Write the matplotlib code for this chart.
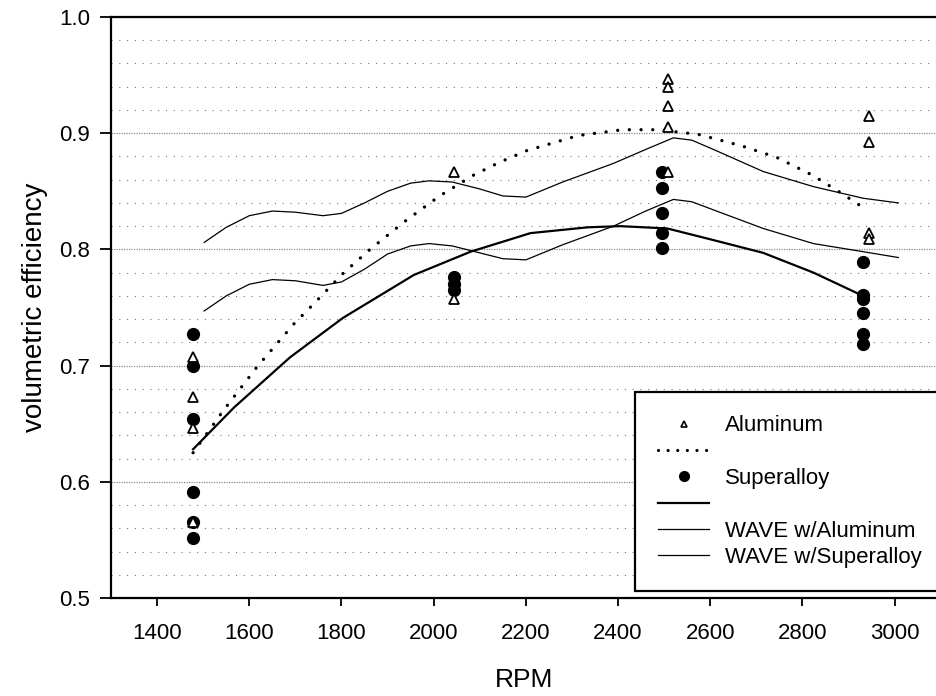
import numpy as np
import matplotlib.pyplot as plt
from matplotlib.lines import Line2D
from matplotlib.ticker import MultipleLocator

plt.rcParams['font.family'] = ['Liberation Sans', 'DejaVu Sans']

# measured points
al_rpm = [1478, 1478, 1478, 1478,
          2045, 2045,
          2509, 2509, 2509, 2509, 2509,
          2945, 2945, 2945, 2945]
al_eff = [0.707, 0.673, 0.646, 0.565,
          0.867, 0.757,
          0.947, 0.940, 0.923, 0.905, 0.867,
          0.915, 0.892, 0.814, 0.809]

sa_rpm = [1478, 1478, 1478, 1478, 1478, 1478,
          2045, 2045, 2045,
          2496, 2496, 2496, 2496, 2496,
          2932, 2932, 2932, 2932, 2932, 2932]
sa_eff = [0.727, 0.700, 0.654, 0.591, 0.565, 0.552,
          0.776, 0.770, 0.765,
          0.867, 0.853, 0.831, 0.814, 0.801,
          0.789, 0.761, 0.757, 0.745, 0.727, 0.719]

# fitted trend for aluminum (dotted)
al_fit_rpm = [1478, 1545, 1617, 1697, 1732, 1805, 1862, 1937, 2013, 2087,
              2143, 2202, 2314, 2410, 2485, 2574, 2669, 2745, 2821, 2878, 2932]
al_fit_eff = [0.625, 0.662, 0.699, 0.736, 0.750, 0.780, 0.800, 0.824, 0.846, 0.864,
              0.875, 0.885, 0.898, 0.903, 0.903, 0.899, 0.889, 0.879, 0.864, 0.850, 0.836]

# fitted trend for superalloy (heavy solid)
sa_fit_rpm = [1478, 1567, 1688, 1803, 1957, 2080, 2145, 2210, 2334, 2405,
              2507, 2607, 2715, 2824, 2926]
sa_fit_eff = [0.628, 0.664, 0.707, 0.741, 0.778, 0.798, 0.806, 0.814, 0.819, 0.820,
              0.818, 0.808, 0.797, 0.780, 0.761]

# WAVE simulation results
wave_rpm = [1502, 1550, 1600, 1650, 1700, 1760, 1800, 1850, 1900, 1950, 1990,
            2040, 2100, 2150, 2200, 2280, 2390, 2460, 2520, 2560, 2607, 2715,
            2824, 2932, 3008]
wave_al = [0.806, 0.819, 0.829, 0.833, 0.832, 0.829, 0.831, 0.840, 0.850, 0.857, 0.859,
           0.858, 0.852, 0.846, 0.845, 0.858, 0.874, 0.886, 0.896, 0.894, 0.886, 0.867,
           0.854, 0.844, 0.840]
wave_sa = [0.747, 0.760, 0.770, 0.774, 0.773, 0.769, 0.772, 0.783, 0.796, 0.803, 0.805,
           0.803, 0.797, 0.792, 0.791, 0.804, 0.820, 0.833, 0.843, 0.841, 0.834, 0.818,
           0.805, 0.798, 0.793]

fig = plt.figure(figsize=(9.37, 6.96), dpi=100)
ax = fig.add_axes([0.1185, 0.1408, 0.8815, 0.8348])

ax.plot(al_fit_rpm, al_fit_eff, color='black', lw=2.4,
        linestyle=(0, (0.01, 3.5)), dash_capstyle='round')
ax.plot(sa_fit_rpm, sa_fit_eff, color='black', lw=1.6)
ax.plot(wave_rpm, wave_al, color='black', lw=0.9)
ax.plot(wave_rpm, wave_sa, color='black', lw=0.9)

ax.plot(sa_rpm, sa_eff, 'o', color='black', ms=8.5, zorder=4)
ax.plot(al_rpm, al_eff, '^', mfc='white', mec='black', mew=1.3, ms=7.5, zorder=5)

ax.set_xlim(1300, 3092)
ax.set_ylim(0.5, 1.0)
ax.set_xticks(range(1400, 3001, 200))
ax.set_yticks([0.5, 0.6, 0.7, 0.8, 0.9, 1.0])
ax.set_yticklabels(['0.5', '0.6', '0.7', '0.8', '0.9', '1.0'])
ax.yaxis.set_minor_locator(MultipleLocator(0.02))

ax.grid(axis='y', which='major', color='#8a8a8a', lw=0.9, linestyle=(0, (1, 1)))
ax.grid(axis='y', which='minor', color='#777777', lw=0.8, linestyle=(0, (1, 6)))
ax.set_axisbelow(True)

ax.tick_params(axis='y', which='major', direction='out', length=8, width=1.3,
               pad=7, labelsize=16)
ax.tick_params(axis='x', which='major', direction='out', length=6, width=1.3,
               pad=12, labelsize=16)
ax.tick_params(which='minor', length=0)

for side in ['left', 'bottom', 'top']:
    ax.spines[side].set_linewidth(1.6)
ax.spines['right'].set_visible(False)

ax.set_xlabel('RPM', fontsize=19, labelpad=17)
ax.set_ylabel('volumetric efficiency', fontsize=20, labelpad=8)

handles = [
    Line2D([], [], marker='^', ls='none', mfc='white', mec='black', mew=1.2, ms=5),
    Line2D([], [], color='black', lw=2.3, linestyle=(0, (0.01, 3.0)), dash_capstyle='round'),
    Line2D([], [], marker='o', ls='none', color='black', ms=7),
    Line2D([], [], color='black', lw=1.6),
    Line2D([], [], color='black', lw=0.9),
    Line2D([], [], color='black', lw=0.9),
]
labels = ['Aluminum', '', 'Superalloy', '', 'WAVE w/Aluminum', 'WAVE w/Superalloy']
leg = ax.legend(handles, labels, loc='upper left', bbox_to_anchor=(0.634, 0.3546, 0.40, 0.0),
                mode='expand', fontsize=16, frameon=True, fancybox=False,
                handlelength=2.3, handletextpad=0.7, labelspacing=0.24,
                borderpad=1.05, borderaxespad=0.0)
leg.get_frame().set_edgecolor('black')
leg.get_frame().set_linewidth(1.6)
leg.get_frame().set_alpha(1.0)

fig.savefig('out.png', dpi=100)
